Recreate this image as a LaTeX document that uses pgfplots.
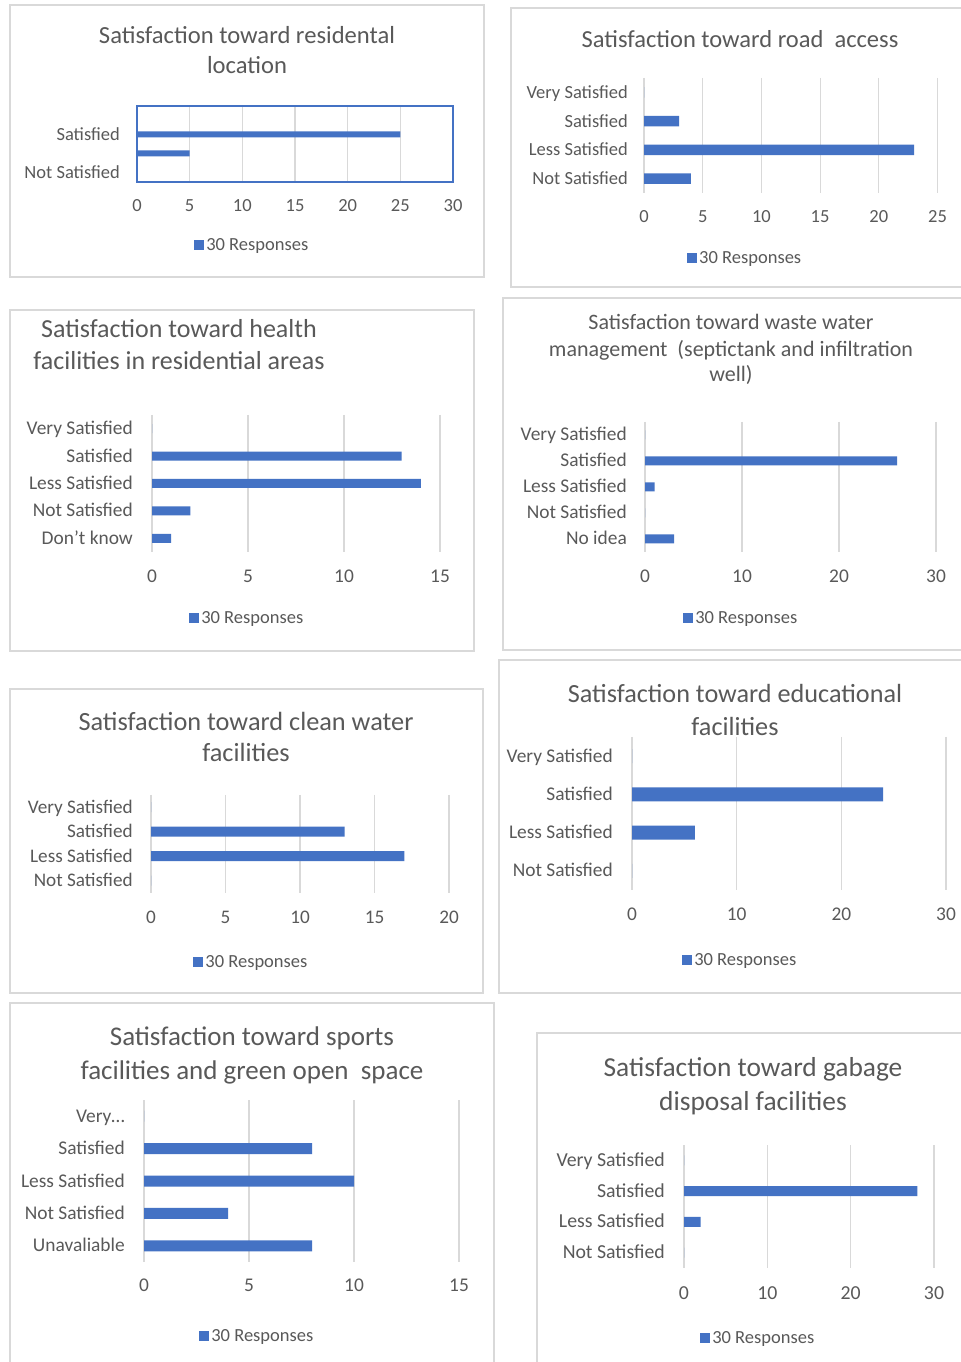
\documentclass[border=0pt]{standalone}
\usepackage{fontspec}
\setmainfont{Carlito}
\usepackage{pgfplots}
\pgfplotsset{compat=1.18}
\definecolor{barblue}{HTML}{4472C4}
\definecolor{txtgray}{HTML}{595959}
\definecolor{gridgray}{HTML}{D9D9D9}
\definecolor{boxgray}{HTML}{D9D9D9}
\newcommand\lab[1]{\fontsize{#1bp}{#1bp}\selectfont}
\pgfplotsset{panel/.style={
  scale only axis, xbar, xmin=0, y dir=reverse,
  anchor=south west, clip=false,
  axis line style={draw=none},
  xmajorgrids, grid style={draw=gridgray, line width=1.1bp},
  major tick length=0pt, tick style={draw=none},
  /pgf/number format/assume math mode=true,
  ticklabel style={text=txtgray},
  xticklabel style={anchor=north, inner sep=0pt, text height=12bp, text depth=0pt},
  yticklabel style={anchor=east, inner sep=0pt, text height=12bp, text depth=0pt},
  legend image code/.code={\fill[barblue] (0bp,-5.2bp) rectangle (10.5bp,5.2bp);},
  legend style={draw=none, fill=none, anchor=center, text=txtgray, inner sep=0pt, font=\lab{18.5}},
}}
\tikzset{ttl/.style={text=txtgray, anchor=center, inner sep=0pt, text depth=0pt}}
\begin{document}
\begin{tikzpicture}
\path[use as bounding box] (0,0) rectangle (961bp,1362bp);
\fill[white] (0,0) rectangle (961bp,1362bp);
% panel borders
\draw[boxgray, line width=1.3bp] (10bp,1362bp-5bp) rectangle (484bp,1362bp-277bp);
\draw[boxgray, line width=1.3bp] (961bp,1362bp-8bp) -- (511bp,1362bp-8bp) -- (511bp,1362bp-287bp) -- (961bp,1362bp-287bp);
\draw[boxgray, line width=1.3bp] (10bp,1362bp-310bp) rectangle (474bp,1362bp-651bp);
\draw[boxgray, line width=1.3bp] (961bp,1362bp-298bp) -- (503bp,1362bp-298bp) -- (503bp,1362bp-650bp) -- (961bp,1362bp-650bp);
\draw[boxgray, line width=1.3bp] (10bp,1362bp-689bp) rectangle (483bp,1362bp-993bp);
\draw[boxgray, line width=1.3bp] (961bp,1362bp-660bp) -- (499bp,1362bp-660bp) -- (499bp,1362bp-993bp) -- (961bp,1362bp-993bp);
\draw[boxgray, line width=1.3bp] (10bp,0bp) -- (10bp,1362bp-1003bp) -- (494bp,1362bp-1003bp) -- (494bp,0bp);
\draw[boxgray, line width=1.3bp] (537bp,0bp) -- (537bp,1362bp-1033bp) -- (961bp,1362bp-1033bp);

% titles
\node[ttl, font=\lab{24.6}, text height=15.7bp] at (247bp,1362bp-36bp) {Satisfaction toward residental};
\node[ttl, font=\lab{24.6}, text height=15.7bp] at (247bp,1362bp-66bp) {location};
\node[ttl, font=\lab{24.5}, text height=15.7bp] at (740bp,1362bp-40bp) {Satisfaction toward road~ access};
\node[ttl, font=\lab{26}, text height=16.6bp] at (179bp,1362bp-329bp) {Satisfaction toward health};
\node[ttl, font=\lab{26}, text height=16.6bp] at (179bp,1362bp-361bp) {facilities in residential areas};
\node[ttl, font=\lab{22}, text height=14bp] at (731bp,1362bp-323bp) {Satisfaction toward waste water};
\node[ttl, font=\lab{22}, text height=14bp] at (731bp,1362bp-350bp) {management~ (septictank and infiltration};
\node[ttl, font=\lab{22}, text height=14bp] at (731bp,1362bp-375bp) {well)};
\node[ttl, font=\lab{26.3}, text height=16.8bp] at (246bp,1362bp-722bp) {Satisfaction toward clean water};
\node[ttl, font=\lab{26.3}, text height=16.8bp] at (246bp,1362bp-753bp) {facilities};
\node[ttl, font=\lab{26.2}, text height=16.8bp] at (735bp,1362bp-694bp) {Satisfaction toward educational};
\node[ttl, font=\lab{26.2}, text height=16.8bp] at (735bp,1362bp-727bp) {facilities};
\node[ttl, font=\lab{27}, text height=17.3bp] at (252bp,1362bp-1037bp) {Satisfaction toward sports};
\node[ttl, font=\lab{27}, text height=17.3bp] at (252bp,1362bp-1071bp) {facilities and green open~ space};
\node[ttl, font=\lab{27.4}, text height=17.5bp] at (753bp,1362bp-1068bp) {Satisfaction toward gabage};
\node[ttl, font=\lab{27.4}, text height=17.5bp] at (753bp,1362bp-1102bp) {disposal facilities};

% P1 residential location
\begin{axis}[panel, at={(137bp,1362bp-182bp)}, width=316bp, height=76bp,
  xmax=30, xtick={0,5,...,30}, ymin=-0.5, ymax=3.5, ytick={0,1,2,3},
  yticklabels={,Satisfied,,Not Satisfied}, bar width=6bp,
  axis line style={draw=barblue, line width=1.3bp},
  ticklabel style={font=\lab{18.5}},
  xticklabel style={yshift=-17bp}, yticklabel style={xshift=-17bp},
  legend style={at={(0.364,-0.829)}}]
\addplot[fill=barblue, draw=none] coordinates {(0,0) (25,1) (5,2) (0,3)};
\addlegendentry{30 Responses}
\end{axis}

% P2 road access
\begin{axis}[panel, at={(644bp,1362bp-193bp)}, width=293.5bp, height=115bp,
  xmax=25, xtick={0,5,...,25}, ymin=-0.5, ymax=3.5, ytick={0,1,2,3},
  yticklabels={Very Satisfied,Satisfied,Less Satisfied,Not Satisfied}, bar width=10.5bp,
  ticklabel style={font=\lab{18.5}},
  xticklabel style={yshift=-17bp}, yticklabel style={xshift=-16bp},
  legend style={at={(0.344,-0.565)}}]
\addplot[fill=barblue, draw=none] coordinates {(0,0) (3,1) (23,2) (4,3)};
\addlegendentry{30 Responses}
\end{axis}

% P3 health
\begin{axis}[panel, at={(152bp,1362bp-552bp)}, width=288bp, height=137bp,
  xmax=15, xtick={0,5,...,15}, ymin=-0.5, ymax=4.5, ytick={0,1,2,3,4},
  yticklabels={Very Satisfied,Satisfied,Less Satisfied,Not Satisfied,Don't know}, bar width=9bp,
  ticklabel style={font=\lab{19.4}},
  xticklabel style={yshift=-18bp}, yticklabel style={xshift=-19bp},
  legend style={at={(0.330,-0.482)}}]
\addplot[fill=barblue, draw=none] coordinates {(0,0) (13,1) (14,2) (2,3) (1,4)};
\addlegendentry{30 Responses}
\end{axis}

% P4 waste water
\begin{axis}[panel, at={(645bp,1362bp-552bp)}, width=291bp, height=130bp,
  xmax=30, xtick={0,10,...,30}, ymin=-0.5, ymax=4.5, ytick={0,1,2,3,4},
  yticklabels={Very Satisfied,Satisfied,Less Satisfied,Not Satisfied,No idea}, bar width=9bp,
  ticklabel style={font=\lab{19.4}},
  xticklabel style={yshift=-18bp}, yticklabel style={xshift=-18bp},
  legend style={at={(0.330,-0.508)}}]
\addplot[fill=barblue, draw=none] coordinates {(0,0) (26,1) (1,2) (0,3) (3,4)};
\addlegendentry{30 Responses}
\end{axis}

% P5 clean water
\begin{axis}[panel, at={(151bp,1362bp-893bp)}, width=298bp, height=98bp,
  xmax=20, xtick={0,5,...,20}, ymin=-0.5, ymax=3.5, ytick={0,1,2,3},
  yticklabels={Very Satisfied,Satisfied,Less Satisfied,Not Satisfied}, bar width=10bp,
  ticklabel style={font=\lab{19.2}},
  xticklabel style={yshift=-18bp}, yticklabel style={xshift=-18bp},
  legend style={at={(0.336,-0.704)}}]
\addplot[fill=barblue, draw=none] coordinates {(0,0) (13,1) (17,2) (0,3)};
\addlegendentry{30 Responses}
\end{axis}

% P6 educational
\begin{axis}[panel, at={(632bp,1362bp-890bp)}, width=314bp, height=153bp,
  xmax=30, xtick={0,10,...,30}, ymin=-0.5, ymax=3.5, ytick={0,1,2,3},
  yticklabels={Very Satisfied,Satisfied,Less Satisfied,Not Satisfied}, bar width=14bp,
  ticklabel style={font=\lab{19.4}},
  xticklabel style={yshift=-18bp}, yticklabel style={xshift=-19bp},
  legend style={at={(0.344,-0.458)}}]
\addplot[fill=barblue, draw=none] coordinates {(0,0) (24,1) (6,2) (0,3)};
\addlegendentry{30 Responses}
\end{axis}

% P7 sports
\begin{axis}[panel, at={(144bp,1362bp-1262bp)}, width=315bp, height=162bp,
  xmax=15, xtick={0,5,...,15}, ymin=-0.5, ymax=4.5, ytick={0,1,2,3,4},
  yticklabels={Very\ldots,Satisfied,Less Satisfied,Not Satisfied,Unavaliable}, bar width=11bp,
  ticklabel style={font=\lab{19.4}},
  xticklabel style={yshift=-17bp}, yticklabel style={xshift=-19bp},
  legend style={at={(0.359,-0.457)}}]
\addplot[fill=barblue, draw=none] coordinates {(0,0) (8,1) (10,2) (4,3) (8,4)};
\addlegendentry{30 Responses}
\end{axis}

% P8 garbage
\begin{axis}[panel, at={(684bp,1362bp-1268bp)}, width=250bp, height=123bp,
  xmax=30, xtick={0,10,...,30}, ymin=-0.5, ymax=3.5, ytick={0,1,2,3},
  yticklabels={Very Satisfied,Satisfied,Less Satisfied,Not Satisfied}, bar width=10bp,
  ticklabel style={font=\lab{19.8}},
  xticklabel style={yshift=-19bp}, yticklabel style={xshift=-19bp},
  legend style={at={(0.296,-0.569)}}]
\addplot[fill=barblue, draw=none] coordinates {(0,0) (28,1) (2,2) (0,3)};
\addlegendentry{30 Responses}
\end{axis}
\end{tikzpicture}
\end{document}
